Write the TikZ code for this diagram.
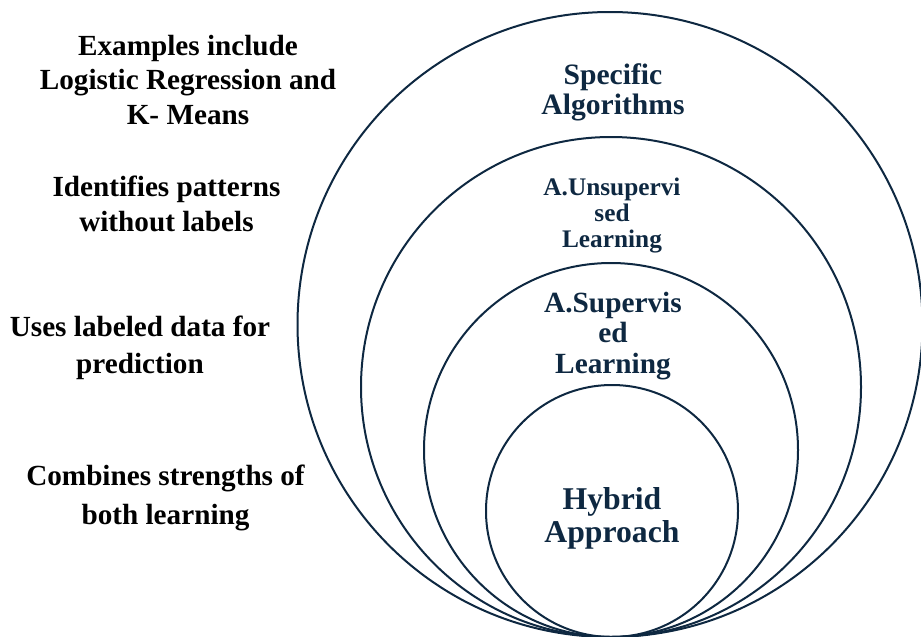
\documentclass[tikz,border=0pt]{standalone}
\usepackage{fontspec}
\setmainfont{Liberation Serif}
\definecolor{navy}{HTML}{0E2841}
\begin{document}
\begin{tikzpicture}[x=1pt,y=-1pt,
  ring/.style={circle,draw=navy,line width=2pt,inner sep=0pt},
  inlabel/.style={text=navy,align=center,inner sep=0pt},
  sidenote/.style={text=black,align=center,inner sep=0pt}]
\useasboundingbox (0,0) rectangle (921,637);

% nested rings, all touching at the bottom
\node[ring,minimum size=625pt] (outer) at (610,324.5) {};
\node[ring,minimum size=500pt] (second) at (611,387) {};
\node[ring,minimum size=374pt] (third) at (611,450) {};
\node[ring,minimum size=252pt] (inner) at (612,511) {};

% ring titles
\node[inlabel,font=\fontsize{29.6}{30}\selectfont\bfseries] (algos) at (613,92) {Specific\\Algorithms};
\node[inlabel,font=\fontsize{25.3}{26}\selectfont\bfseries] (unsup) at (612,216) {A.Unsupervi\\sed\\Learning};
\node[inlabel,font=\fontsize{29.3}{30.5}\selectfont\bfseries] (sup) at (613,336) {A.Supervis\\ed\\Learning};
\node[inlabel,font=\fontsize{31.7}{33}\selectfont\bfseries] (hybrid) at (612,518) {Hybrid\\Approach};

% descriptions on the left
\node[sidenote,font=\fontsize{29.2}{34.5}\selectfont\bfseries] (ex) at (188,80) {Examples include\\Logistic Regression and\\K- Means};
\node[sidenote,font=\fontsize{29.2}{35}\selectfont\bfseries] (id) at (166.5,204) {Identifies patterns\\without labels};
\node[sidenote,font=\fontsize{29.2}{37}\selectfont\bfseries] (uses) at (140,348) {Uses labeled data for\\prediction};
\node[sidenote,font=\fontsize{29.2}{39}\selectfont\bfseries] (comb) at (165.5,498) {Combines strengths of\\both learning};
\end{tikzpicture}
\end{document}
